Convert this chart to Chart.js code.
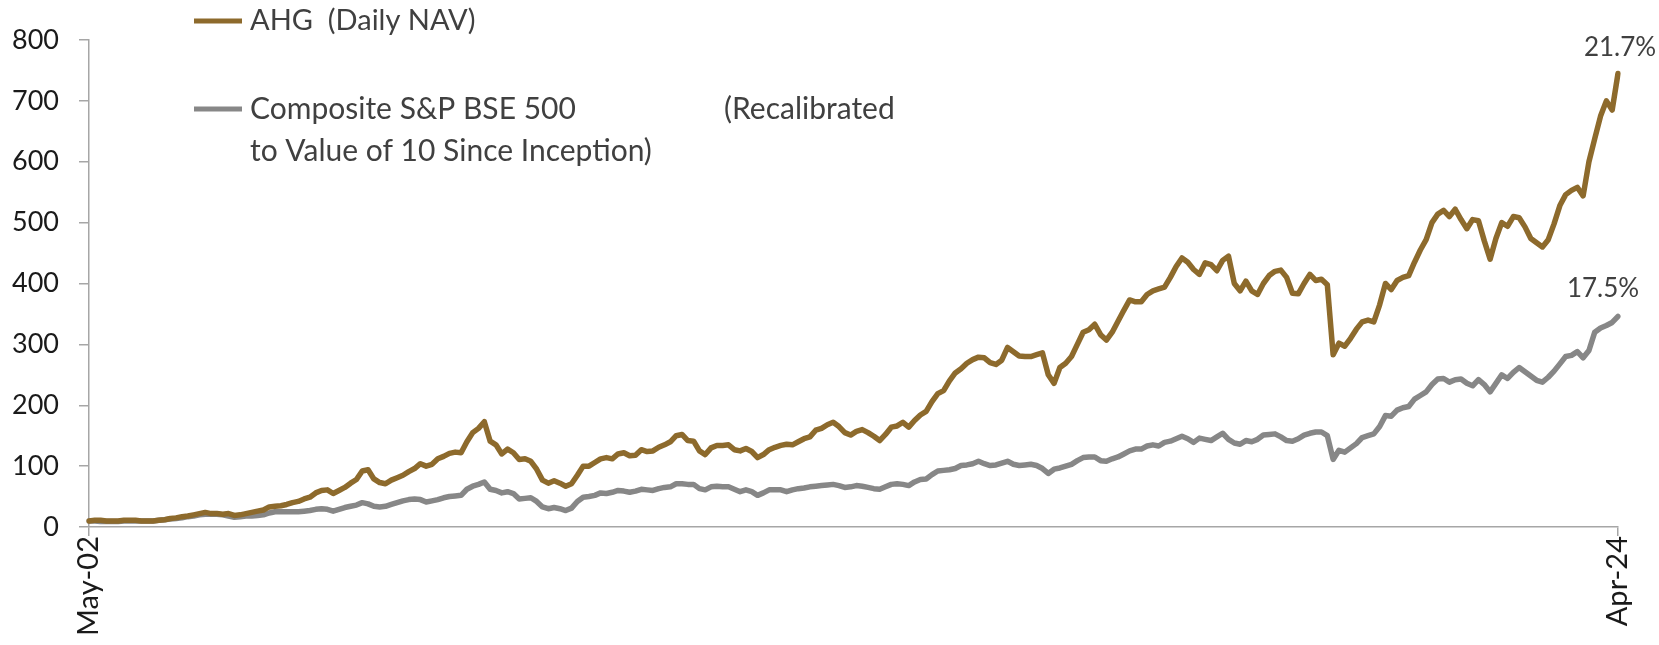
<!DOCTYPE html>
<html><head><meta charset="utf-8">
<script src="https://cdn.jsdelivr.net/npm/chart.js@4.4.1/dist/chart.umd.min.js"></script>
<style>html,body{margin:0;padding:0;background:#fff;}#wrap{width:1659px;height:645px;position:relative;}</style>
</head><body><div id="wrap"><canvas id="c" width="1659" height="645" style="width:1659px;height:645px"></canvas></div>
<script>
// ---- categories (monthly, May-02 .. Apr-24) ----
const MONTH_NAMES = ['Jan','Feb','Mar','Apr','May','Jun','Jul','Aug','Sep','Oct','Nov','Dec'];
const START_YEAR = 2002, START_MONTH = 4, N_MONTHS = 264;
const categories = [];
for (let k = 0; k < N_MONTHS; k++) {
  const m = (START_MONTH + k) % 12, y = START_YEAR + Math.floor((START_MONTH + k) / 12);
  categories.push(MONTH_NAMES[m] + '-' + String(y % 100).padStart(2, '0'));
}
const shownXLabels = ['May-02', 'Apr-24'];

// ---- series values ----
const ahg = [
10,11,11,10,10,10,11,11,11,10,10,10,11,12,14,15,17,18,20,22,
24,22,22,21,22,19,20,22,24,26,28,33,34,35,37,40,42,46,49,56,
60,61,55,60,65,72,78,92,94,79,73,71,77,81,85,91,96,104,100,103,
112,116,121,123,122,140,155,162,173,141,135,120,128,122,111,112,108,95,77,72,
76,72,67,71,85,100,100,106,112,114,112,120,122,117,118,127,124,125,131,135,
140,150,152,142,141,125,119,130,134,134,135,127,125,129,124,114,119,127,131,134,
136,135,140,145,148,159,162,168,172,165,155,151,157,160,155,149,142,152,164,166,
172,164,175,184,190,206,219,224,240,253,260,269,275,279,278,270,267,274,295,288,
281,280,280,283,286,250,236,262,269,280,300,320,324,333,316,307,320,338,356,373,
370,370,382,388,391,394,410,428,442,435,423,415,434,431,421,438,445,400,388,404,
388,382,400,413,420,422,410,384,383,400,415,405,407,398,283,302,297,310,325,337,
340,337,365,400,390,405,410,413,435,455,472,500,514,520,510,522,505,490,505,503,
470,440,474,500,494,510,508,493,474,467,460,472,498,528,546,553,558,544,600,638,
675,700,685,745
];
const bse500 = [
10,10,9,9,9,9,10,10,10,10,10,10,11,12,13,14,15,17,18,20,
21,21,21,20,18,16,17,18,18,19,20,23,25,25,25,25,25,26,27,29,
30,29,26,29,32,34,36,40,38,34,33,34,37,40,43,45,46,45,41,43,
45,48,50,51,52,62,67,70,74,62,60,56,58,55,46,47,48,42,33,30,
32,30,27,31,42,49,50,52,56,55,57,60,59,57,59,62,61,60,63,65,
66,71,71,70,70,63,61,66,67,66,66,62,58,61,58,52,56,61,61,61,
58,61,63,64,66,67,68,69,70,68,65,66,68,67,65,63,62,66,70,71,
70,68,74,78,79,86,92,93,94,96,101,102,104,108,104,101,102,105,108,103,
101,102,103,101,96,88,95,97,100,103,109,114,115,115,109,108,112,115,120,125,
128,128,133,135,133,139,141,145,149,145,139,146,144,142,148,154,144,138,136,142,
140,144,151,152,153,148,142,141,145,151,154,156,156,150,111,126,123,130,137,147,
150,153,165,183,182,192,196,198,210,216,222,234,243,244,238,242,243,236,232,242,
234,222,236,250,244,254,262,255,248,241,238,246,256,268,280,282,288,278,290,320,
327,331,336,346
];
const seriesNames = ['AHG  (Daily NAV)', 'Composite S&P BSE 500'];
const legendExtra = ['(Recalibrated', 'to Value of 10 Since Inception)'];
const endLabels = ['21.7%', '17.5%'];
const yTickValues = [0, 100, 200, 300, 400, 500, 600, 700, 800];

// ---- styles ----
const COLORS = ['#8D6A2C', '#878787'];
const AXIS_COLOR = '#a6a6a6';
const FONT = 'Lato, "Open Sans", "DejaVu Sans", sans-serif';

const overlay = {
  id: 'overlay',
  afterDraw(chart) {
    const ctx = chart.ctx;
    ctx.save();
    ctx.lineWidth = 5;
    ctx.lineCap = 'butt';
    const lg = [{y: 21}, {y: 109}];
    lg.forEach((e, i) => {
      ctx.strokeStyle = COLORS[i];
      ctx.beginPath(); ctx.moveTo(194, e.y); ctx.lineTo(242, e.y); ctx.stroke();
    });
    ctx.fillStyle = '#404040';
    ctx.font = '29px ' + FONT;
    ctx.textBaseline = 'middle';
    ctx.textAlign = 'left';
    ctx.fillText(seriesNames[0], 250, 21);
    ctx.font = '30px ' + FONT;
    ctx.fillText(seriesNames[1], 250, 109);
    ctx.fillText(legendExtra[0], 724, 109);
    ctx.fillText(legendExtra[1], 250, 151);
    ctx.font = '26px ' + FONT;
    ctx.textAlign = 'center';
    ctx.textBaseline = 'middle';
    const offs = [{dx: 2, dy: -26}, {dx: -15, dy: -28}];
    chart.data.datasets.forEach((ds, i) => {
      const meta = chart.getDatasetMeta(i);
      const pt = meta.data[meta.data.length - 1];
      ctx.fillText(endLabels[i], pt.x + offs[i].dx, pt.y + offs[i].dy);
    });
    ctx.restore();
  }
};

const lastIdx = categories.length - 1;
new Chart(document.getElementById('c'), {
  type: 'line',
  data: {
    labels: categories,
    datasets: [
      {label: seriesNames[0], data: ahg, borderColor: COLORS[0], borderWidth: 5.5, pointRadius: 0, tension: 0, borderJoinStyle: 'round', borderCapStyle: 'round'},
      {label: seriesNames[1], data: bse500, borderColor: COLORS[1], borderWidth: 5.5, pointRadius: 0, tension: 0, borderJoinStyle: 'round', borderCapStyle: 'round'}
    ]
  },
  options: {
    responsive: false,
    animation: false,
    devicePixelRatio: 1,
    layout: {padding: {top: 40, right: 41, left: 0, bottom: 0}},
    plugins: {legend: {display: false}, tooltip: {enabled: false}},
    scales: {
      x: {
        type: 'category',
        offset: false,
        afterFit: s => { s.height = 118; },
        border: {display: true, color: AXIS_COLOR, width: 1.5},
        grid: {
          drawOnChartArea: false, drawTicks: true, tickLength: 9, lineWidth: 1.5,
          color: c => (c.index === 0 || c.index === lastIdx) ? AXIS_COLOR : 'rgba(0,0,0,0)'
        },
        ticks: {
          autoSkip: false, maxRotation: 90, minRotation: 90, padding: 0,
          color: '#1a1a1a', font: {family: FONT, size: 29},
          callback: function (v, i) { const l = this.getLabelForValue(v); return shownXLabels.includes(l) ? l : ''; }
        }
      },
      y: {
        min: 0, max: 800,
        afterFit: s => { s.width = 89; },
        afterBuildTicks: s => { s.ticks = yTickValues.map(v => ({value: v})); },
        border: {display: true, color: AXIS_COLOR, width: 1.5},
        grid: {drawOnChartArea: false, drawTicks: true, tickLength: 10, color: AXIS_COLOR, lineWidth: 1.5},
        ticks: {padding: 20, color: '#1a1a1a', font: {family: FONT, size: 27}}
      }
    }
  },
  plugins: [overlay]
});
</script></body></html>
